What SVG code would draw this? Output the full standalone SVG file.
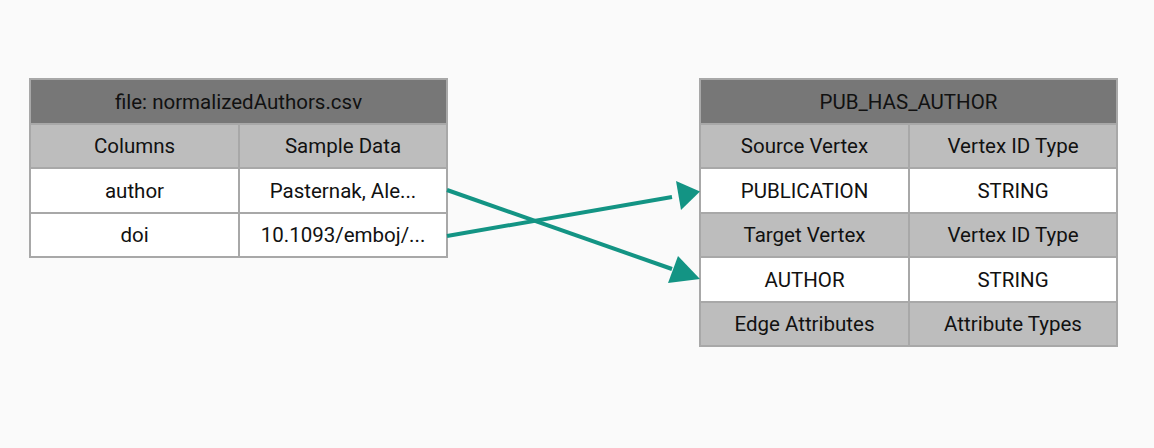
<svg xmlns="http://www.w3.org/2000/svg" width="1154" height="448" viewBox="0 0 1154 448">
<style>
text{font-family:Roboto,"Liberation Sans",sans-serif;font-size:20.5px;fill:#111;text-anchor:middle;dominant-baseline:central}
.h{fill:#777}
.g{fill:#bdbdbd}
.w{fill:#fff}
.t rect{stroke:#a8a8a8;stroke-width:2}
.c{stroke:#139484;stroke-width:4;fill:none}
.a{fill:#139484}
</style>
<rect x="0" y="0" width="1154" height="448" fill="#fafafa"/>
<g id="csv" class="t">
<rect class="h" x="30" y="79" width="417" height="45"/>
<text x="238.5" y="101.5">file: normalizedAuthors.csv</text>
<rect class="g" x="30" y="124" width="209" height="44"/>
<rect class="g" x="239" y="124" width="208" height="44"/>
<text x="134.5" y="146">Columns</text>
<text x="343" y="146">Sample Data</text>
<rect class="w" x="30" y="168" width="209" height="45"/>
<rect class="w" x="239" y="168" width="208" height="45"/>
<text x="134.5" y="190.5">author</text>
<text x="343" y="190.5">Pasternak, Ale...</text>
<rect class="w" x="30" y="213" width="209" height="44"/>
<rect class="w" x="239" y="213" width="208" height="44"/>
<text x="134.5" y="235">doi</text>
<text x="343" y="235">10.1093/emboj/...</text>
</g>
<g id="edge" class="t">
<rect class="h" x="700" y="79" width="417" height="45"/>
<text x="908.5" y="101.5">PUB_HAS_AUTHOR</text>
<rect class="g" x="700" y="124" width="209" height="44"/>
<rect class="g" x="909" y="124" width="208" height="44"/>
<text x="804.5" y="146">Source Vertex</text>
<text x="1013" y="146">Vertex ID Type</text>
<rect class="w" x="700" y="168" width="209" height="45"/>
<rect class="w" x="909" y="168" width="208" height="45"/>
<text x="804.5" y="190.5">PUBLICATION</text>
<text x="1013" y="190.5">STRING</text>
<rect class="g" x="700" y="213" width="209" height="44"/>
<rect class="g" x="909" y="213" width="208" height="44"/>
<text x="804.5" y="235">Target Vertex</text>
<text x="1013" y="235">Vertex ID Type</text>
<rect class="w" x="700" y="257" width="209" height="45"/>
<rect class="w" x="909" y="257" width="208" height="45"/>
<text x="804.5" y="279.5">AUTHOR</text>
<text x="1013" y="279.5">STRING</text>
<rect class="g" x="700" y="302" width="209" height="44"/>
<rect class="g" x="909" y="302" width="208" height="44"/>
<text x="804.5" y="324">Edge Attributes</text>
<text x="1013" y="324">Attribute Types</text>
</g>
<g id="connectors">
<path class="c" d="M447,190 L672,269"/>
<path class="a" d="M700,279 L668,283 L678,256 z"/>
<path class="c" d="M447,236 L672,197"/>
<path class="a" d="M700,191.5 L676,181 L681,210 z"/>
</g>
</svg>
